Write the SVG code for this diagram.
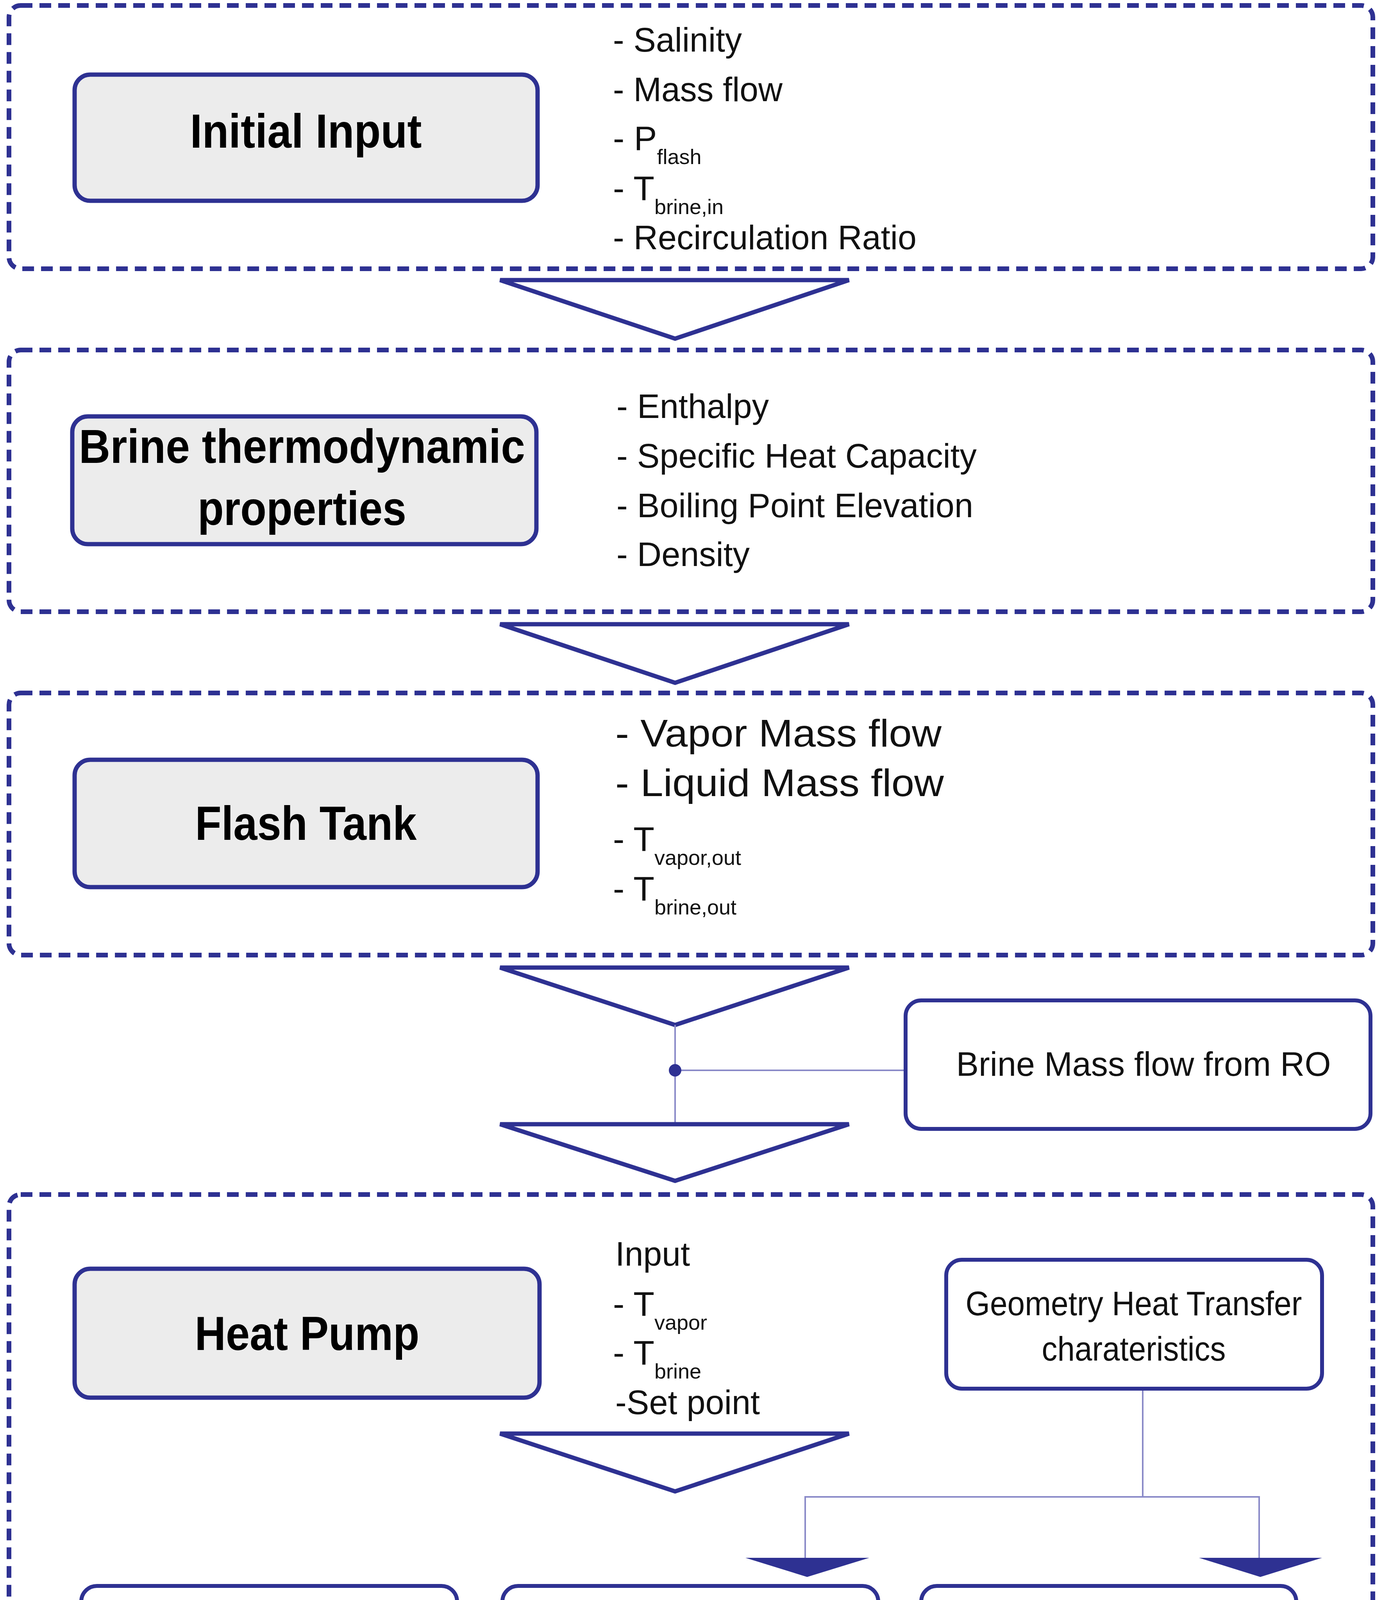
<svg xmlns="http://www.w3.org/2000/svg" width="3540" height="4543" viewBox="0 0 3540 4543">
<style>
.dash{fill:none;stroke:#2e3192;stroke-width:12;stroke-dasharray:30 18}
.main{fill:#ececec;stroke:#2e3192;stroke-width:11}
.box{fill:#fff;stroke:#2e3192;stroke-width:10}
.tri{fill:#fff;stroke:#2e3192;stroke-width:11;stroke-linejoin:miter}
.thin{fill:none;stroke:#8a8ac8;stroke-width:4}
.t{font-family:"Liberation Sans",Arial,sans-serif;font-size:88px;fill:#111}
.b{font-family:"Liberation Sans",Arial,sans-serif;font-size:122px;font-weight:bold;fill:#000}
.s{font-size:54px}
</style>
<rect width="3540" height="4543" fill="#fff"/>
<g id="connectors">
<polygon class="tri" points="1280,717 2173,717 1728,867"/>
<polygon class="tri" points="1280,1598 2173,1598 1728,1748"/>
<polygon class="tri" points="1280,2477 2173,2477 1728,2624"/>
<polyline class="thin" points="1728,2624 1728,2878"/>
<polyline class="thin" points="1728,2740 2318,2740"/>
<circle cx="1728" cy="2740" r="16" fill="#2e3192"/>
<polygon class="tri" points="1280,2878 2173,2878 1728,3023"/>
<polygon class="tri" points="1280,3670 2173,3670 1728,3818"/>
<polyline class="thin" points="2925,3555 2925,3832"/>
<polyline class="thin" points="2061,3988 2061,3832 3223,3832 3223,3988"/>
<polygon points="1908,3988 2225,3988 2066,4037" fill="#2e3192"/>
<polygon points="3069,3988 3384,3988 3226,4037" fill="#2e3192"/>
</g>
<g id="group1">
<rect class="dash" x="23" y="14" width="3491" height="674" rx="30"/>
</g>
<g id="initial-input">
<rect class="main" x="191" y="191" width="1185" height="323" rx="40"/>
<text class="b" x="783" y="378" text-anchor="middle" textLength="593" lengthAdjust="spacingAndGlyphs">Initial Input</text>
</g>
<g id="inputs1">
<text class="t" x="1569" y="132" textLength="330" lengthAdjust="spacingAndGlyphs">- Salinity</text>
<text class="t" x="1569" y="259" textLength="434" lengthAdjust="spacingAndGlyphs">- Mass flow</text>
<text class="t" x="1569" y="384">- P<tspan class="s" dy="36">flash</tspan></text>
<text class="t" x="1569" y="512">- T<tspan class="s" dy="36">brine,in</tspan></text>
<text class="t" x="1569" y="638" textLength="777" lengthAdjust="spacingAndGlyphs">- Recirculation Ratio</text>
</g>
<g id="group2">
<rect class="dash" x="23" y="896" width="3491" height="670" rx="30"/>
</g>
<g id="brine-props">
<rect class="main" x="185" y="1066" width="1188" height="327" rx="40"/>
<text class="b" x="773" y="1185" text-anchor="middle" textLength="1142" lengthAdjust="spacingAndGlyphs">Brine thermodynamic</text>
<text class="b" x="773" y="1344" text-anchor="middle" textLength="534" lengthAdjust="spacingAndGlyphs">properties</text>
</g>
<g id="props">
<text class="t" x="1578" y="1070" textLength="390" lengthAdjust="spacingAndGlyphs">- Enthalpy</text>
<text class="t" x="1578" y="1197" textLength="922" lengthAdjust="spacingAndGlyphs">- Specific Heat Capacity</text>
<text class="t" x="1578" y="1324" textLength="913" lengthAdjust="spacingAndGlyphs">- Boiling Point Elevation</text>
<text class="t" x="1578" y="1449" textLength="341" lengthAdjust="spacingAndGlyphs">- Density</text>
</g>
<g id="group3">
<rect class="dash" x="23" y="1774" width="3491" height="671" rx="30"/>
</g>
<g id="flash-tank">
<rect class="main" x="191" y="1945" width="1185" height="326" rx="40"/>
<text class="b" x="783" y="2150" text-anchor="middle" textLength="567" lengthAdjust="spacingAndGlyphs">Flash Tank</text>
</g>
<g id="flash-out">
<text class="t" x="1575" y="1911" style="font-size:98px" textLength="835" lengthAdjust="spacingAndGlyphs">- Vapor Mass flow</text>
<text class="t" x="1575" y="2038" style="font-size:98px" textLength="841" lengthAdjust="spacingAndGlyphs">- Liquid Mass flow</text>
<text class="t" x="1569" y="2178">- T<tspan class="s" dy="36">vapor,out</tspan></text>
<text class="t" x="1569" y="2305">- T<tspan class="s" dy="36">brine,out</tspan></text>
</g>
<g id="brine-ro">
<rect class="box" x="2318" y="2561" width="1190" height="329" rx="40"/>
<text class="t" x="2927" y="2754" text-anchor="middle" textLength="959" lengthAdjust="spacingAndGlyphs">Brine Mass flow from RO</text>
</g>
<g id="group4">
<rect class="dash" x="23" y="3058" width="3491" height="1450" rx="30"/>
</g>
<g id="heat-pump">
<rect class="main" x="191" y="3248" width="1190" height="330" rx="40"/>
<text class="b" x="786" y="3456" text-anchor="middle" textLength="575" lengthAdjust="spacingAndGlyphs">Heat Pump</text>
</g>
<g id="hp-input">
<text class="t" x="1575" y="3240" textLength="191" lengthAdjust="spacingAndGlyphs">Input</text>
<text class="t" x="1569" y="3368">- T<tspan class="s" dy="36">vapor</tspan></text>
<text class="t" x="1569" y="3493">- T<tspan class="s" dy="36">brine</tspan></text>
<text class="t" x="1575" y="3620" textLength="370" lengthAdjust="spacingAndGlyphs">-Set point</text>
</g>
<g id="geometry">
<rect class="box" x="2422" y="3225" width="962" height="330" rx="40"/>
<text class="t" x="2902" y="3367" text-anchor="middle" textLength="861" lengthAdjust="spacingAndGlyphs">Geometry Heat Transfer</text>
<text class="t" x="2902" y="3483" text-anchor="middle" textLength="471" lengthAdjust="spacingAndGlyphs">charateristics</text>
</g>
<g id="compressor">
<rect class="box" x="208" y="4060" width="962" height="327" rx="40"/>
<text class="t" x="684" y="4260" text-anchor="middle" style="font-size:98px" textLength="471" lengthAdjust="spacingAndGlyphs">Compressor</text>
</g>
<g id="condenser">
<rect class="box" x="1286" y="4060" width="962" height="327" rx="40"/>
<text class="t" x="1757" y="4260" text-anchor="middle" style="font-size:98px" textLength="422" lengthAdjust="spacingAndGlyphs">Condenser</text>
</g>
<g id="evaporation">
<rect class="box" x="2358" y="4060" width="960" height="327" rx="40"/>
<text class="t" x="2851" y="4256" text-anchor="middle" style="font-size:98px" textLength="460" lengthAdjust="spacingAndGlyphs">Evaporation</text>
</g>
</svg>
